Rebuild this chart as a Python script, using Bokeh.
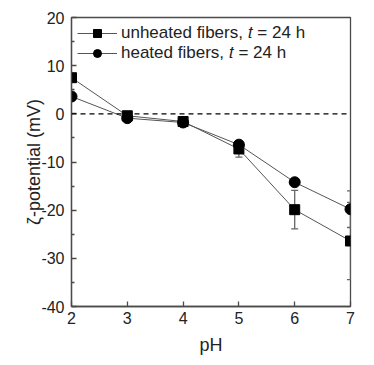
from bokeh.plotting import figure
from bokeh.models import ColumnDataSource, Whisker, TeeHead, Span, Legend, LegendItem, FixedTicker
from bokeh.embed import file_html
from bokeh.resources import INLINE

ph = [2, 3, 4, 5, 6, 7]
unheated = [7.5, -0.4, -1.6, -7.3, -19.9, -26.4]
unheated_err = [0.0, 0.3, 0.3, 1.7, 4.0, 8.0]
heated = [3.6, -0.9, -1.8, -6.4, -14.2, -19.8]
heated_err = [0.0, 0.3, 0.3, 0.5, 0.6, 3.8]

x_ticks = [2, 3, 4, 5, 6, 7]
y_ticks = [-40, -30, -20, -10, 0, 10, 20]
y_minor = [-35, -25, -15, -5, 5, 15]

FONT = "Liberation Sans"
AX = "#4a4a4a"
TXT = "#222222"

p = figure(frame_width=279, frame_height=289, x_range=(2, 7), y_range=(-40, 20),
           output_backend="svg", toolbar_location=None,
           min_border_left=71, min_border_right=19, min_border_top=17, min_border_bottom=50)
p.grid.visible = False
p.outline_line_color = AX
p.outline_line_width = 1.3
p.background_fill_color = "white"
p.border_fill_color = "white"

src_u = ColumnDataSource(dict(x=ph, y=unheated,
                              lo=[v - e for v, e in zip(unheated, unheated_err)],
                              hi=[v + e for v, e in zip(unheated, unheated_err)]))
src_h = ColumnDataSource(dict(x=ph, y=heated,
                              lo=[v - e for v, e in zip(heated, heated_err)],
                              hi=[v + e for v, e in zip(heated, heated_err)]))

p.add_layout(Span(location=0, dimension="width", line_color="black",
                  line_dash="5 4", line_width=1.2))

for src in (src_u, src_h):
    w = Whisker(source=src, base="x", lower="lo", upper="hi", line_color="#666666", line_width=1.3,
                upper_head=TeeHead(size=7, line_color="#666666", line_width=1.3),
                lower_head=TeeHead(size=7, line_color="#666666", line_width=1.3))
    p.add_layout(w)

lu = p.line("x", "y", source=src_u, line_color="#555555", line_width=1)
su = p.scatter("x", "y", source=src_u, marker="square", size=10, color="black")
lh = p.line("x", "y", source=src_h, line_color="#555555", line_width=1)
sh = p.scatter("x", "y", source=src_h, marker="circle", size=11, color="black")

legend = Legend(items=[LegendItem(label="unheated fibers, \U0001D461 = 24 h", renderers=[lu, su]),
                       LegendItem(label="heated fibers, \U0001D461 = 24 h", renderers=[lh, sh])],
                location="top_left", glyph_width=40, glyph_height=20, spacing=0,
                padding=0, margin=6, label_standoff=4, label_height=20,
                label_text_font=FONT, label_text_font_size="17px", label_text_color=TXT,
                border_line_color=None, background_fill_alpha=0)
p.add_layout(legend)

for ax in (p.xaxis[0], p.yaxis[0]):
    ax.axis_line_color = AX
    ax.axis_line_width = 1.3
    ax.major_tick_line_color = AX
    ax.major_tick_line_width = 1.3
    ax.major_tick_in = 5
    ax.major_tick_out = 0
    ax.major_label_text_font = FONT
    ax.major_label_text_font_size = "16px"
    ax.major_label_text_color = TXT
    ax.axis_label_text_font = FONT
    ax.axis_label_text_font_size = "18px"
    ax.axis_label_text_font_style = "normal"
    ax.axis_label_text_color = TXT

p.xaxis.ticker = FixedTicker(ticks=x_ticks)
p.xaxis.major_label_overrides = {t: str(t) for t in x_ticks}
p.xaxis.minor_tick_line_color = None
p.xaxis.major_label_standoff = 5
p.xaxis.axis_label = "pH"
p.xaxis.axis_label_standoff = 8

p.yaxis.ticker = FixedTicker(ticks=y_ticks, minor_ticks=y_minor)
p.yaxis.major_label_overrides = {t: str(t) for t in y_ticks}
p.yaxis.minor_tick_line_color = AX
p.yaxis.minor_tick_line_width = 1.3
p.yaxis.minor_tick_in = 3
p.yaxis.minor_tick_out = 0
p.yaxis.major_label_standoff = 7
p.yaxis.axis_label = "ζ-potential (mV)"
p.yaxis.axis_label_standoff = -6

open("out.html", "w").write(file_html(p, INLINE))
